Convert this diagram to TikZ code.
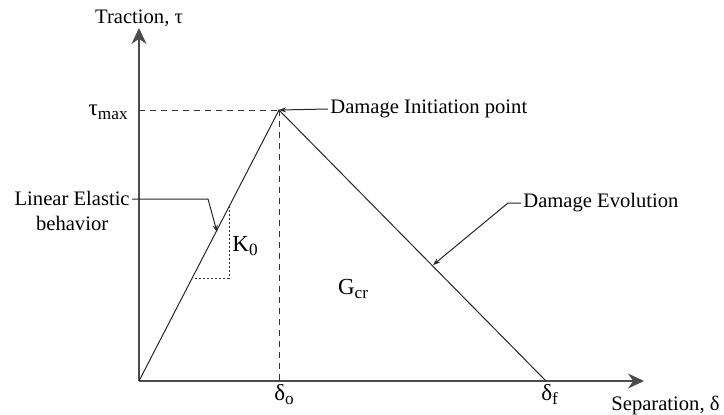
\documentclass[tikz,border=0pt]{standalone}
\usepackage{fontspec}
\setmainfont{Liberation Serif}
\usetikzlibrary{arrows.meta}
\newcommand{\lowsub}[1]{\raisebox{-0.4ex}{\fontsize{8.6}{9}\selectfont #1}}

\begin{document}
\begin{tikzpicture}[x=0.5pt,y=-0.5pt,
    axis/.style={draw=black!70, line width=0.6pt, -{Stealth[length=8pt,width=7.5pt]}},
    law/.style={draw=black!85, line width=0.5pt},
    guide/.style={draw=black!80, line width=0.5pt, dash pattern=on 3pt off 2.5pt},
    slope/.style={draw=black!80, line width=0.5pt, dash pattern=on 1pt off 1pt},
    leader/.style={draw=black!85, line width=0.5pt, -{Stealth[length=3.5pt,width=2.5pt]}},
    lbl/.style={font=\fontsize{10.3}{12.5}\selectfont, inner sep=1pt},
    big/.style={font=\fontsize{11.5}{13}\selectfont, inner sep=1pt},
]
\useasboundingbox (0,0) rectangle (724,414);
% key points of the law
\coordinate (org) at (139,381);
\coordinate (ytop) at (139,28);
\coordinate (xend) at (644,381);
\coordinate (peak) at (279,110);
\coordinate (dzero) at (279,381);
\coordinate (dfin) at (546,381);

\draw[axis] (org) -- (ytop);
\draw[axis] (org) -- (xend);
\draw[law] (org) -- (peak) -- (dfin);
\draw[guide] (org |- peak) -- (peak);
\draw[guide] (peak) -- (dzero);

% slope triangle
\coordinate (ka) at (195,278);
\coordinate (kb) at (229,278);
\coordinate (kc) at (229,207);
\draw[slope] (ka) -- (kb) -- (kc);

% labels
\node[lbl, anchor=base] (ytxt) at (139,23) {Traction, τ};
\node[big, anchor=east] (tmax) at (130,112) {τ\lowsub{max}};
\node[lbl, anchor=west] (xtxt) at (609,405) {Separation, δ};
\node[big, anchor=north west] (dolbl) at (272,382) {δ\lowsub{o}};
\node[big, anchor=north west] (dflbl) at (539,382) {δ\lowsub{f}};
\node[big] (klbl) at (245,246) {K\lowsub{0}};
\node[big] (gcr) at (353,289) {G\lowsub{cr}};

\node[lbl, anchor=east, align=center] (elast) at (132,211) {Linear Elastic\\behavior};
\node[lbl, anchor=west] (init) at (328,109) {Damage Initiation point};
\node[lbl, anchor=west] (evol) at (521,203) {Damage Evolution};

% leaders
\coordinate (ebend) at (208,199);
\coordinate (etip) at (217,232);
\draw[leader] (elast.east |- ebend) -- (ebend) -- (etip);
\draw[leader] (init.west) -- (peak);
\coordinate (vbend) at (508,203);
\coordinate (vtip) at (433,265);
\draw[leader] (evol.west) -- (vbend) -- (vtip);
\end{tikzpicture}
\end{document}
